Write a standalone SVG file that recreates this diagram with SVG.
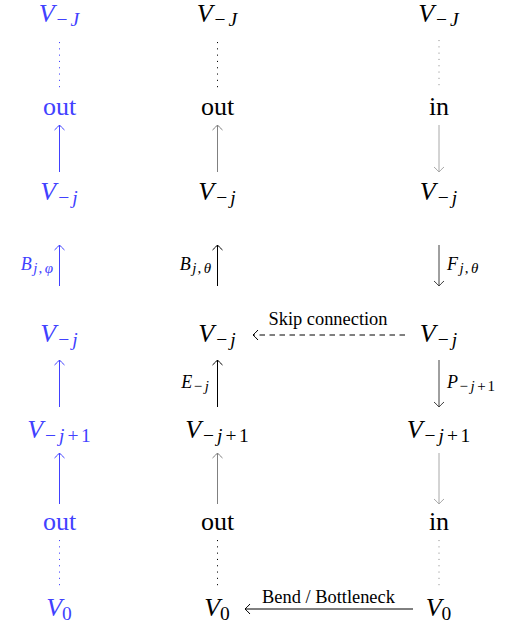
<svg xmlns="http://www.w3.org/2000/svg" width="507" height="627" viewBox="0 0 507 627">
<style>
text{font-family:"Liberation Serif","Times New Roman",serif;}
.n{font-size:26px;text-anchor:middle;}
.i{font-style:italic;}
.s{font-size:19.5px;}
.ls{font-size:18px;}
.lss{font-size:15px;}
.t{font-size:18.4px;text-anchor:middle;}
.blue{fill:#4141ff;}
line{fill:none;stroke-width:1;}
.dot{stroke-dasharray:1.1 5.2;}
</style>
<defs>
<marker id="ab" viewBox="-6 -6 12 12" refX="0" refY="0" markerWidth="12" markerHeight="12" markerUnits="userSpaceOnUse" orient="auto" overflow="visible"><path d="M-5,-5 Q-1.6,-1.3 0,0 Q-1.6,1.3 -5,5" fill="none" stroke="#4141ff" stroke-width="1"/></marker>
<marker id="ak" viewBox="-6 -6 12 12" refX="0" refY="0" markerWidth="12" markerHeight="12" markerUnits="userSpaceOnUse" orient="auto" overflow="visible"><path d="M-5,-5 Q-1.6,-1.3 0,0 Q-1.6,1.3 -5,5" fill="none" stroke="#000" stroke-width="1"/></marker>
<marker id="ag" viewBox="-6 -6 12 12" refX="0" refY="0" markerWidth="12" markerHeight="12" markerUnits="userSpaceOnUse" orient="auto" overflow="visible"><path d="M-5,-5 Q-1.6,-1.3 0,0 Q-1.6,1.3 -5,5" fill="none" stroke="#808080" stroke-width="1"/></marker>
<marker id="al" viewBox="-6 -6 12 12" refX="0" refY="0" markerWidth="12" markerHeight="12" markerUnits="userSpaceOnUse" orient="auto" overflow="visible"><path d="M-5,-5 Q-1.6,-1.3 0,0 Q-1.6,1.3 -5,5" fill="none" stroke="#a8a8a8" stroke-width="1"/></marker>
<marker id="ad" viewBox="-6 -6 12 12" refX="0" refY="0" markerWidth="12" markerHeight="12" markerUnits="userSpaceOnUse" orient="auto" overflow="visible"><path d="M-5,-5 Q-1.6,-1.3 0,0 Q-1.6,1.3 -5,5" fill="none" stroke="#404040" stroke-width="1"/></marker>
</defs>

<g id="connectors">
<line x1="59.5" y1="42" x2="59.5" y2="88" stroke="#4141ff" class="dot"/>
<line x1="59.5" y1="172" x2="59.5" y2="125" stroke="#4141ff" marker-end="url(#ab)"/>
<line x1="59.5" y1="286" x2="59.5" y2="245" stroke="#4141ff" marker-end="url(#ab)"/>
<line x1="59.5" y1="407" x2="59.5" y2="360" stroke="#4141ff" marker-end="url(#ab)"/>
<line x1="59.5" y1="504" x2="59.5" y2="453" stroke="#4141ff" marker-end="url(#ab)"/>
<line x1="59.5" y1="540" x2="59.5" y2="588" stroke="#4141ff" class="dot"/>
<line x1="217.5" y1="42" x2="217.5" y2="88" stroke="#000" class="dot"/>
<line x1="217.5" y1="172" x2="217.5" y2="125" stroke="#808080" marker-end="url(#ag)"/>
<line x1="217.5" y1="286" x2="217.5" y2="245" stroke="#000" marker-end="url(#ak)"/>
<line x1="217.5" y1="407" x2="217.5" y2="360" stroke="#000" marker-end="url(#ak)"/>
<line x1="217.5" y1="504" x2="217.5" y2="453" stroke="#808080" marker-end="url(#ag)"/>
<line x1="217.5" y1="540" x2="217.5" y2="588" stroke="#000" class="dot"/>
<line x1="439" y1="40" x2="439" y2="86" stroke="#909090" class="dot"/>
<line x1="439" y1="125" x2="439" y2="172" stroke="#a8a8a8" marker-end="url(#al)"/>
<line x1="439" y1="245" x2="439" y2="286" stroke="#404040" marker-end="url(#ad)"/>
<line x1="439" y1="360" x2="439" y2="407" stroke="#404040" marker-end="url(#ad)"/>
<line x1="439" y1="453" x2="439" y2="504" stroke="#a8a8a8" marker-end="url(#al)"/>
<line x1="439" y1="540" x2="439" y2="588" stroke="#909090" class="dot"/>
<line x1="405" y1="335" x2="253" y2="335" stroke="#000" stroke-dasharray="5.5 4.5" marker-end="url(#ak)"/>
<line x1="413" y1="609" x2="245" y2="609" stroke="#000" marker-end="url(#ak)"/>
<text class="t" x="328" y="325">Skip connection</text>
<text class="t" x="328.5" y="603">Bend / Bottleneck</text>
<text class="blue" x="53" y="270" text-anchor="end"><tspan class="i ls">B</tspan><tspan class="lss" dy="3" dx="1.5"><tspan class="i">j</tspan><tspan dx="1">,</tspan><tspan class="i" dx="2.5">φ</tspan></tspan></text>
<text x="211" y="270" text-anchor="end"><tspan class="i ls">B</tspan><tspan class="lss" dy="3" dx="1.5"><tspan class="i">j</tspan><tspan dx="1">,</tspan><tspan class="i" dx="2.5">θ</tspan></tspan></text>
<text x="447" y="270"><tspan class="i ls">F</tspan><tspan class="lss" dy="3" dx="1.5"><tspan class="i">j</tspan><tspan dx="1">,</tspan><tspan class="i" dx="2.5">θ</tspan></tspan></text>
<text x="209" y="388" text-anchor="end"><tspan class="i ls">E</tspan><tspan class="lss" dy="3" dx="1.5">−<tspan class="i" dx="2.5">j</tspan></tspan></text>
<text x="447" y="388"><tspan class="i ls">P</tspan><tspan class="lss" dy="3" dx="1.5">−<tspan class="i" dx="2.5">j</tspan><tspan dx="2.5">+</tspan><tspan dx="2">1</tspan></tspan></text>
</g>

<g id="left-VJ"><text class="n blue" x="59" y="22"><tspan class="i">V</tspan><tspan class="s" dy="4" dx="2">−<tspan class="i" dx="3">J</tspan></tspan></text></g>
<g id="left-out-top"><text class="n blue" x="59.5" y="115">out</text></g>
<g id="left-Vj-top"><text class="n blue" x="59" y="200"><tspan class="i">V</tspan><tspan class="s" dy="4" dx="2">−<tspan class="i" dx="3">j</tspan></tspan></text></g>
<g id="left-Vj-mid"><text class="n blue" x="59" y="342"><tspan class="i">V</tspan><tspan class="s" dy="4" dx="2">−<tspan class="i" dx="3">j</tspan></tspan></text></g>
<g id="left-Vj1"><text class="n blue" x="59" y="437.5"><tspan class="i">V</tspan><tspan class="s" dy="4" dx="2">−<tspan class="i" dx="3">j</tspan><tspan dx="3">+</tspan><tspan dx="2.5">1</tspan></tspan></text></g>
<g id="left-out-bot"><text class="n blue" x="59.5" y="529.5">out</text></g>
<g id="left-V0"><text class="n blue" x="59" y="616"><tspan class="i">V</tspan><tspan class="s" dy="4">0</tspan></text></g>

<g id="mid-VJ"><text class="n" x="217" y="22"><tspan class="i">V</tspan><tspan class="s" dy="4" dx="2">−<tspan class="i" dx="3">J</tspan></tspan></text></g>
<g id="mid-out-top"><text class="n" x="217.5" y="115">out</text></g>
<g id="mid-Vj-top"><text class="n" x="217" y="200"><tspan class="i">V</tspan><tspan class="s" dy="4" dx="2">−<tspan class="i" dx="3">j</tspan></tspan></text></g>
<g id="mid-Vj-mid"><text class="n" x="217" y="342"><tspan class="i">V</tspan><tspan class="s" dy="4" dx="2">−<tspan class="i" dx="3">j</tspan></tspan></text></g>
<g id="mid-Vj1"><text class="n" x="217" y="437.5"><tspan class="i">V</tspan><tspan class="s" dy="4" dx="2">−<tspan class="i" dx="3">j</tspan><tspan dx="3">+</tspan><tspan dx="2.5">1</tspan></tspan></text></g>
<g id="mid-out-bot"><text class="n" x="217.5" y="529.5">out</text></g>
<g id="mid-V0"><text class="n" x="217" y="616"><tspan class="i">V</tspan><tspan class="s" dy="4">0</tspan></text></g>

<g id="right-VJ"><text class="n" x="438.5" y="22"><tspan class="i">V</tspan><tspan class="s" dy="4" dx="2">−<tspan class="i" dx="3">J</tspan></tspan></text></g>
<g id="right-in-top"><text class="n" x="439" y="115">in</text></g>
<g id="right-Vj-top"><text class="n" x="438.5" y="200"><tspan class="i">V</tspan><tspan class="s" dy="4" dx="2">−<tspan class="i" dx="3">j</tspan></tspan></text></g>
<g id="right-Vj-mid"><text class="n" x="438.5" y="342"><tspan class="i">V</tspan><tspan class="s" dy="4" dx="2">−<tspan class="i" dx="3">j</tspan></tspan></text></g>
<g id="right-Vj1"><text class="n" x="438.5" y="437.5"><tspan class="i">V</tspan><tspan class="s" dy="4" dx="2">−<tspan class="i" dx="3">j</tspan><tspan dx="3">+</tspan><tspan dx="2.5">1</tspan></tspan></text></g>
<g id="right-in-bot"><text class="n" x="439" y="529.5">in</text></g>
<g id="right-V0"><text class="n" x="438.5" y="616"><tspan class="i">V</tspan><tspan class="s" dy="4">0</tspan></text></g>
</svg>
